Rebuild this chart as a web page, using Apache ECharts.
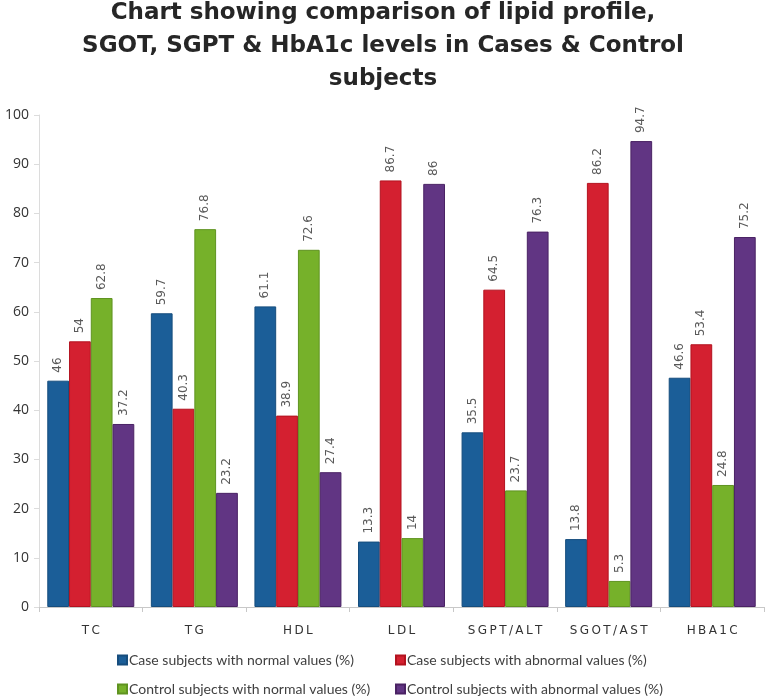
<!DOCTYPE html>
<html>
<head>
<meta charset="utf-8">
<script src="https://cdn.jsdelivr.net/npm/echarts@6/dist/echarts.min.js"></script>
<style>
html,body{margin:0;padding:0;background:#fff;}
#chart{width:766px;height:697px;}
</style>
</head>
<body>
<div id="chart"></div>
<script>
const titleText = 'Chart showing comparison of lipid profile,\nSGOT, SGPT & HbA1c levels in Cases & Control\nsubjects';
const categories = ['TC', 'TG', 'HDL', 'LDL', 'SGPT/ALT', 'SGOT/AST', 'HBA1C'];
const seriesNames = [
  'Case subjects with normal values (%)',
  'Case subjects with abnormal values (%)',
  'Control subjects with normal values (%)',
  'Control subjects with abnormal values (%)'
];
const caseNormal = [46, 59.7, 61.1, 13.3, 35.5, 13.8, 46.6];
const caseAbnormal = [54, 40.3, 38.9, 86.7, 64.5, 86.2, 53.4];
const controlNormal = [62.8, 76.8, 72.6, 14, 23.7, 5.3, 24.8];
const controlAbnormal = [37.2, 23.2, 27.4, 86, 76.3, 94.7, 75.2];
const yTicks = [0, 10, 20, 30, 40, 50, 60, 70, 80, 90, 100];

const fills = ['#1b5e98', '#d42030', '#76b12a', '#613583'];
const borders = ['#164d7d', '#b3121f', '#5f9320', '#4a2264'];
const values = [caseNormal, caseAbnormal, controlNormal, controlAbnormal];

const chart = echarts.init(document.getElementById('chart'));
const series = values.map((v, i) => ({
  name: seriesNames[i],
  type: 'bar',
  data: v,
  barGap: '0%',
  barCategoryGap: '16%',
  itemStyle: { color: fills[i], borderColor: borders[i], borderWidth: 1 },
  label: {
    show: true,
    position: 'top',
    rotate: 90,
    align: 'left',
    verticalAlign: 'middle',
    distance: 8,
    color: '#595959',
    fontFamily: 'DejaVu Sans',
    fontSize: 12
  }
}));

const legendPos = [[112, 648], [390, 648], [112, 677], [390, 677]];
const legends = seriesNames.map((n, i) => ({
  left: legendPos[i][0], top: legendPos[i][1],
  itemWidth: 9, itemHeight: 9, icon: 'rect',
  data: [n],
  textStyle: { fontFamily: 'Lato', fontSize: 14, color: '#404040', padding: [0, 0, 0, -3] }
}));

chart.setOption({
  animation: false,
  backgroundColor: '#fff',
  title: {
    text: titleText,
    left: 'center',
    top: -8,
    textStyle: {
      fontFamily: 'DejaVu Sans',
      fontWeight: 'bold',
      fontSize: 23,
      lineHeight: 33,
      color: '#262626'
    }
  },
  legend: legends,
  grid: { left: 39, right: 2, top: 115, bottom: 90, containLabel: false },
  xAxis: {
    type: 'category',
    data: categories,
    axisLine: { lineStyle: { color: '#c8c8c8' } },
    axisTick: { show: true, length: 5, lineStyle: { color: '#c8c8c8' } },
    axisLabel: {
      interval: 0,
      margin: 18,
      fontFamily: 'DejaVu Sans',
      fontSize: 12,
      color: '#333',
      formatter: v => v.split('').join('\u2009')
    }
  },
  yAxis: {
    type: 'value',
    min: yTicks[0],
    max: yTicks[yTicks.length - 1],
    interval: 10,
    axisLine: { show: true, lineStyle: { color: '#dcdcdc' } },
    axisTick: { show: true, length: 5, lineStyle: { color: '#dcdcdc' } },
    splitLine: { show: false },
    axisLabel: { margin: 10, fontFamily: 'Open Sans', fontSize: 14, color: '#333' }
  },
  series: series
});
</script>
</body>
</html>
